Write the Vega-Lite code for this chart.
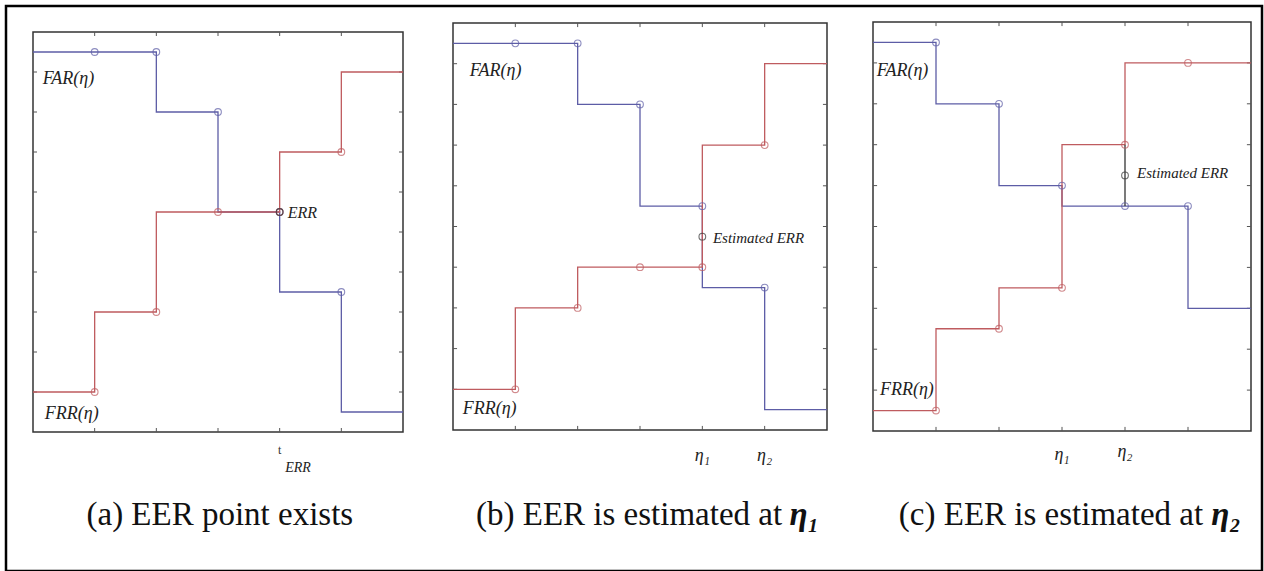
{
"$schema":"https://vega.github.io/schema/vega-lite/v6.json",
"width":1256,"height":565,
"autosize":{"type":"none"},
"padding":{"left":6,"top":6,"right":2,"bottom":0},
"background":"white",
"config":{"view":{"stroke":"#000","strokeWidth":2.5},"text":{"font":"Liberation Serif, Times New Roman, DejaVu Serif, serif"}},
"datasets":{
"curves":[
{"panel":"a","series":"FAR","x":0,"y":9.5},{"panel":"a","series":"FAR","x":1,"y":9.5},{"panel":"a","series":"FAR","x":2,"y":9.5},{"panel":"a","series":"FAR","x":3,"y":8},{"panel":"a","series":"FAR","x":4,"y":5.5},{"panel":"a","series":"FAR","x":5,"y":3.5},{"panel":"a","series":"FAR","x":6,"y":0.5},
{"panel":"a","series":"FRR","x":0,"y":1},{"panel":"a","series":"FRR","x":1,"y":1},{"panel":"a","series":"FRR","x":2,"y":3},{"panel":"a","series":"FRR","x":3,"y":5.5},{"panel":"a","series":"FRR","x":4,"y":5.5},{"panel":"a","series":"FRR","x":5,"y":7},{"panel":"a","series":"FRR","x":6,"y":9},
{"panel":"b","series":"FAR","x":0,"y":9.5},{"panel":"b","series":"FAR","x":1,"y":9.5},{"panel":"b","series":"FAR","x":2,"y":9.5},{"panel":"b","series":"FAR","x":3,"y":8},{"panel":"b","series":"FAR","x":4,"y":5.5},{"panel":"b","series":"FAR","x":5,"y":3.5},{"panel":"b","series":"FAR","x":6,"y":0.5},
{"panel":"b","series":"FRR","x":0,"y":1},{"panel":"b","series":"FRR","x":1,"y":1},{"panel":"b","series":"FRR","x":2,"y":3},{"panel":"b","series":"FRR","x":3,"y":4},{"panel":"b","series":"FRR","x":4,"y":4},{"panel":"b","series":"FRR","x":5,"y":7},{"panel":"b","series":"FRR","x":6,"y":9},
{"panel":"c","series":"FAR","x":0,"y":9.5},{"panel":"c","series":"FAR","x":1,"y":9.5},{"panel":"c","series":"FAR","x":2,"y":8},{"panel":"c","series":"FAR","x":3,"y":6},{"panel":"c","series":"FAR","x":4,"y":5.5},{"panel":"c","series":"FAR","x":5,"y":5.5},{"panel":"c","series":"FAR","x":6,"y":3},
{"panel":"c","series":"FRR","x":0,"y":0.5},{"panel":"c","series":"FRR","x":1,"y":0.5},{"panel":"c","series":"FRR","x":2,"y":2.5},{"panel":"c","series":"FRR","x":3,"y":3.5},{"panel":"c","series":"FRR","x":4,"y":7},{"panel":"c","series":"FRR","x":5,"y":9},{"panel":"c","series":"FRR","x":6,"y":9}
],
"est":[{"panel":"a","x":4,"y":5.5},{"panel":"b","x":4,"y":4.75},{"panel":"c","x":4,"y":6.25}],
"xt":[{"t":1},{"t":2},{"t":3},{"t":4},{"t":5}],
"yt":[{"t":1},{"t":2},{"t":3},{"t":4},{"t":5},{"t":6},{"t":7},{"t":8},{"t":9}]
},
"layer":[
{"layer":[
{"data":{"values":[{}]},"mark":{"type":"rect","fill":"transparent","stroke":"#333","strokeWidth":1.5},
 "encoding":{"x":{"datum":0,"type":"quantitative","scale":{"domain":[0,6],"range":[27,397],"nice":false,"zero":false},"axis":null},"x2":{"datum":6},"y":{"datum":0,"type":"quantitative","scale":{"domain":[0,10],"range":[426,26],"nice":false,"zero":false},"axis":null},"y2":{"datum":10}}},
{"data":{"name":"xt"},"mark":{"type":"rule","color":"#555","strokeWidth":1},
 "encoding":{"x":{"field":"t","type":"quantitative","scale":{"domain":[0,6],"range":[27,397],"nice":false,"zero":false},"axis":null},"y":{"datum":0,"type":"quantitative","scale":{"domain":[0,10],"range":[426,26],"nice":false,"zero":false},"axis":null},"y2":{"datum":0.1}}},
{"data":{"name":"xt"},"mark":{"type":"rule","color":"#555","strokeWidth":1},
 "encoding":{"x":{"field":"t","type":"quantitative","scale":{"domain":[0,6],"range":[27,397],"nice":false,"zero":false},"axis":null},"y":{"datum":10,"type":"quantitative","scale":{"domain":[0,10],"range":[426,26],"nice":false,"zero":false},"axis":null},"y2":{"datum":9.9}}},
{"data":{"name":"yt"},"mark":{"type":"rule","color":"#555","strokeWidth":1},
 "encoding":{"y":{"field":"t","type":"quantitative","scale":{"domain":[0,10],"range":[426,26],"nice":false,"zero":false},"axis":null},"x":{"datum":0,"type":"quantitative","scale":{"domain":[0,6],"range":[27,397],"nice":false,"zero":false},"axis":null},"x2":{"datum":0.065}}},
{"data":{"name":"yt"},"mark":{"type":"rule","color":"#555","strokeWidth":1},
 "encoding":{"y":{"field":"t","type":"quantitative","scale":{"domain":[0,10],"range":[426,26],"nice":false,"zero":false},"axis":null},"x":{"datum":6,"type":"quantitative","scale":{"domain":[0,6],"range":[27,397],"nice":false,"zero":false},"axis":null},"x2":{"datum":5.935}}},
{"data":{"name":"curves"},"transform":[{"filter":"datum.panel === 'a'"}],"mark":{"type":"line","interpolate":"step-before","strokeWidth":1.3},
 "encoding":{"x":{"field":"x","type":"quantitative","scale":{"domain":[0,6],"range":[27,397],"nice":false,"zero":false},"axis":null},"y":{"field":"y","type":"quantitative","scale":{"domain":[0,10],"range":[426,26],"nice":false,"zero":false},"axis":null},"color":{"field":"series","type":"nominal","scale":{"domain":["FAR","FRR"],"range":["#5d5da6","#bf5b5f"]},"legend":null}}},
{"data":{"name":"curves"},"transform":[{"filter":"datum.panel === 'a' && datum.x >= 1 && datum.x <= 5"}],"mark":{"type":"point","filled":false,"size":45,"strokeWidth":1.1},
 "encoding":{"x":{"field":"x","type":"quantitative","scale":{"domain":[0,6],"range":[27,397],"nice":false,"zero":false},"axis":null},"y":{"field":"y","type":"quantitative","scale":{"domain":[0,10],"range":[426,26],"nice":false,"zero":false},"axis":null},"color":{"field":"series","type":"nominal","scale":{"domain":["FAR","FRR"],"range":["#5d5da6","#bf5b5f"]},"legend":null}}},
{"data":{"name":"est"},"transform":[{"filter":"datum.panel === 'a'"}],"mark":{"type":"point","filled":false,"size":45,"strokeWidth":1.1,"color":"#333"},
 "encoding":{"x":{"field":"x","type":"quantitative","scale":{"domain":[0,6],"range":[27,397],"nice":false,"zero":false},"axis":null},"y":{"field":"y","type":"quantitative","scale":{"domain":[0,10],"range":[426,26],"nice":false,"zero":false},"axis":null}}},
{"data":{"values":[{}]},"mark":{"type":"text","text":"FAR(η)","align":"left","baseline":"alphabetic","fontStyle":"italic","fontSize":18,"color":"#222"},
 "encoding":{"x":{"datum":0.157,"type":"quantitative","scale":{"domain":[0,6],"range":[27,397],"nice":false,"zero":false},"axis":null},"y":{"datum":8.7,"type":"quantitative","scale":{"domain":[0,10],"range":[426,26],"nice":false,"zero":false},"axis":null}}},
{"data":{"values":[{}]},"mark":{"type":"text","text":"FRR(η)","align":"left","baseline":"alphabetic","fontStyle":"italic","fontSize":18,"color":"#222"},
 "encoding":{"x":{"datum":0.19,"type":"quantitative","scale":{"domain":[0,6],"range":[27,397],"nice":false,"zero":false},"axis":null},"y":{"datum":0.325,"type":"quantitative","scale":{"domain":[0,10],"range":[426,26],"nice":false,"zero":false},"axis":null}}},
{"data":{"values":[{}]},"mark":{"type":"text","text":"ERR","align":"left","baseline":"alphabetic","fontStyle":"italic","fontSize":16,"color":"#222"},
 "encoding":{"x":{"datum":4.13,"type":"quantitative","scale":{"domain":[0,6],"range":[27,397],"nice":false,"zero":false},"axis":null},"y":{"datum":5.34,"type":"quantitative","scale":{"domain":[0,10],"range":[426,26],"nice":false,"zero":false},"axis":null}}},
{"data":{"values":[{}]},"mark":{"type":"text","text":"t","align":"center","baseline":"alphabetic","fontSize":12,"color":"#333"},
 "encoding":{"x":{"datum":4,"type":"quantitative","scale":{"domain":[0,6],"range":[27,397],"nice":false,"zero":false},"axis":null},"y":{"datum":-0.55,"type":"quantitative","scale":{"domain":[0,10],"range":[426,26],"nice":false,"zero":false},"axis":null}}},
{"data":{"values":[{}]},"mark":{"type":"text","text":"ERR","align":"left","baseline":"alphabetic","fontStyle":"italic","fontSize":14,"color":"#222"},
 "encoding":{"x":{"datum":4.09,"type":"quantitative","scale":{"domain":[0,6],"range":[27,397],"nice":false,"zero":false},"axis":null},"y":{"datum":-0.99,"type":"quantitative","scale":{"domain":[0,10],"range":[426,26],"nice":false,"zero":false},"axis":null}}},
{"data":{"values":[{}]},"mark":{"type":"text","text":"(a) EER point exists","align":"center","baseline":"alphabetic","fontSize":33,"color":"#111"},
 "encoding":{"x":{"datum":3.03,"type":"quantitative","scale":{"domain":[0,6],"range":[27,397],"nice":false,"zero":false},"axis":null},"y":{"datum":-2.325,"type":"quantitative","scale":{"domain":[0,10],"range":[426,26],"nice":false,"zero":false},"axis":null}}}
]},
{"layer":[
{"data":{"values":[{}]},"mark":{"type":"rect","fill":"transparent","stroke":"#333","strokeWidth":1.5},
 "encoding":{"x":{"datum":0,"type":"quantitative","scale":{"domain":[0,6],"range":[447,821],"nice":false,"zero":false},"axis":null},"x2":{"datum":6},"y":{"datum":0,"type":"quantitative","scale":{"domain":[0,10],"range":[424,17],"nice":false,"zero":false},"axis":null},"y2":{"datum":10}}},
{"data":{"name":"xt"},"mark":{"type":"rule","color":"#555","strokeWidth":1},
 "encoding":{"x":{"field":"t","type":"quantitative","scale":{"domain":[0,6],"range":[447,821],"nice":false,"zero":false},"axis":null},"y":{"datum":0,"type":"quantitative","scale":{"domain":[0,10],"range":[424,17],"nice":false,"zero":false},"axis":null},"y2":{"datum":0.1}}},
{"data":{"name":"xt"},"mark":{"type":"rule","color":"#555","strokeWidth":1},
 "encoding":{"x":{"field":"t","type":"quantitative","scale":{"domain":[0,6],"range":[447,821],"nice":false,"zero":false},"axis":null},"y":{"datum":10,"type":"quantitative","scale":{"domain":[0,10],"range":[424,17],"nice":false,"zero":false},"axis":null},"y2":{"datum":9.9}}},
{"data":{"name":"yt"},"mark":{"type":"rule","color":"#555","strokeWidth":1},
 "encoding":{"y":{"field":"t","type":"quantitative","scale":{"domain":[0,10],"range":[424,17],"nice":false,"zero":false},"axis":null},"x":{"datum":0,"type":"quantitative","scale":{"domain":[0,6],"range":[447,821],"nice":false,"zero":false},"axis":null},"x2":{"datum":0.065}}},
{"data":{"name":"yt"},"mark":{"type":"rule","color":"#555","strokeWidth":1},
 "encoding":{"y":{"field":"t","type":"quantitative","scale":{"domain":[0,10],"range":[424,17],"nice":false,"zero":false},"axis":null},"x":{"datum":6,"type":"quantitative","scale":{"domain":[0,6],"range":[447,821],"nice":false,"zero":false},"axis":null},"x2":{"datum":5.935}}},
{"data":{"name":"curves"},"transform":[{"filter":"datum.panel === 'b'"}],"mark":{"type":"line","interpolate":"step-before","strokeWidth":1.3},
 "encoding":{"x":{"field":"x","type":"quantitative","scale":{"domain":[0,6],"range":[447,821],"nice":false,"zero":false},"axis":null},"y":{"field":"y","type":"quantitative","scale":{"domain":[0,10],"range":[424,17],"nice":false,"zero":false},"axis":null},"color":{"field":"series","type":"nominal","scale":{"domain":["FAR","FRR"],"range":["#5d5da6","#bf5b5f"]},"legend":null}}},
{"data":{"name":"curves"},"transform":[{"filter":"datum.panel === 'b' && datum.x >= 1 && datum.x <= 5"}],"mark":{"type":"point","filled":false,"size":45,"strokeWidth":1.1},
 "encoding":{"x":{"field":"x","type":"quantitative","scale":{"domain":[0,6],"range":[447,821],"nice":false,"zero":false},"axis":null},"y":{"field":"y","type":"quantitative","scale":{"domain":[0,10],"range":[424,17],"nice":false,"zero":false},"axis":null},"color":{"field":"series","type":"nominal","scale":{"domain":["FAR","FRR"],"range":["#5d5da6","#bf5b5f"]},"legend":null}}},
{"data":{"name":"est"},"transform":[{"filter":"datum.panel === 'b'"}],"mark":{"type":"point","filled":false,"size":45,"strokeWidth":1.1,"color":"#333"},
 "encoding":{"x":{"field":"x","type":"quantitative","scale":{"domain":[0,6],"range":[447,821],"nice":false,"zero":false},"axis":null},"y":{"field":"y","type":"quantitative","scale":{"domain":[0,10],"range":[424,17],"nice":false,"zero":false},"axis":null}}},
{"data":{"values":[{}]},"mark":{"type":"text","text":"FAR(η)","align":"left","baseline":"alphabetic","fontStyle":"italic","fontSize":18,"color":"#222"},
 "encoding":{"x":{"datum":0.27,"type":"quantitative","scale":{"domain":[0,6],"range":[447,821],"nice":false,"zero":false},"axis":null},"y":{"datum":8.69,"type":"quantitative","scale":{"domain":[0,10],"range":[424,17],"nice":false,"zero":false},"axis":null}}},
{"data":{"values":[{}]},"mark":{"type":"text","text":"FRR(η)","align":"left","baseline":"alphabetic","fontStyle":"italic","fontSize":18,"color":"#222"},
 "encoding":{"x":{"datum":0.155,"type":"quantitative","scale":{"domain":[0,6],"range":[447,821],"nice":false,"zero":false},"axis":null},"y":{"datum":0.39,"type":"quantitative","scale":{"domain":[0,10],"range":[424,17],"nice":false,"zero":false},"axis":null}}},
{"data":{"values":[{}]},"mark":{"type":"text","text":"Estimated ERR","align":"left","baseline":"alphabetic","fontStyle":"italic","fontSize":15,"color":"#222"},
 "encoding":{"x":{"datum":4.17,"type":"quantitative","scale":{"domain":[0,6],"range":[447,821],"nice":false,"zero":false},"axis":null},"y":{"datum":4.6,"type":"quantitative","scale":{"domain":[0,10],"range":[424,17],"nice":false,"zero":false},"axis":null}}},
{"data":{"values":[{}]},"mark":{"type":"text","text":"η₁","align":"center","baseline":"alphabetic","fontStyle":"italic","fontSize":18,"color":"#222"},
 "encoding":{"x":{"datum":4,"type":"quantitative","scale":{"domain":[0,6],"range":[447,821],"nice":false,"zero":false},"axis":null},"y":{"datum":-0.76,"type":"quantitative","scale":{"domain":[0,10],"range":[424,17],"nice":false,"zero":false},"axis":null}}},
{"data":{"values":[{}]},"mark":{"type":"text","text":"η₂","align":"center","baseline":"alphabetic","fontStyle":"italic","fontSize":18,"color":"#222"},
 "encoding":{"x":{"datum":5,"type":"quantitative","scale":{"domain":[0,6],"range":[447,821],"nice":false,"zero":false},"axis":null},"y":{"datum":-0.76,"type":"quantitative","scale":{"domain":[0,10],"range":[424,17],"nice":false,"zero":false},"axis":null}}},
{"data":{"values":[{}]},"mark":{"type":"text","text":"(b) EER is estimated at","align":"right","baseline":"alphabetic","fontSize":33,"color":"#111"},
 "encoding":{"x":{"datum":5.28,"type":"quantitative","scale":{"domain":[0,6],"range":[447,821],"nice":false,"zero":false},"axis":null},"y":{"datum":-2.334,"type":"quantitative","scale":{"domain":[0,10],"range":[424,17],"nice":false,"zero":false},"axis":null}}},
{"data":{"values":[{}]},"mark":{"type":"text","text":"η₁","align":"left","baseline":"alphabetic","fontStyle":"italic","fontWeight":"bold","fontSize":33,"color":"#111"},
 "encoding":{"x":{"datum":5.4,"type":"quantitative","scale":{"domain":[0,6],"range":[447,821],"nice":false,"zero":false},"axis":null},"y":{"datum":-2.334,"type":"quantitative","scale":{"domain":[0,10],"range":[424,17],"nice":false,"zero":false},"axis":null}}}
]},
{"layer":[
{"data":{"values":[{}]},"mark":{"type":"rect","fill":"transparent","stroke":"#333","strokeWidth":1.5},
 "encoding":{"x":{"datum":0,"type":"quantitative","scale":{"domain":[0,6],"range":[867,1245],"nice":false,"zero":false},"axis":null},"x2":{"datum":6},"y":{"datum":0,"type":"quantitative","scale":{"domain":[0,10],"range":[425,16],"nice":false,"zero":false},"axis":null},"y2":{"datum":10}}},
{"data":{"name":"xt"},"mark":{"type":"rule","color":"#555","strokeWidth":1},
 "encoding":{"x":{"field":"t","type":"quantitative","scale":{"domain":[0,6],"range":[867,1245],"nice":false,"zero":false},"axis":null},"y":{"datum":0,"type":"quantitative","scale":{"domain":[0,10],"range":[425,16],"nice":false,"zero":false},"axis":null},"y2":{"datum":0.1}}},
{"data":{"name":"xt"},"mark":{"type":"rule","color":"#555","strokeWidth":1},
 "encoding":{"x":{"field":"t","type":"quantitative","scale":{"domain":[0,6],"range":[867,1245],"nice":false,"zero":false},"axis":null},"y":{"datum":10,"type":"quantitative","scale":{"domain":[0,10],"range":[425,16],"nice":false,"zero":false},"axis":null},"y2":{"datum":9.9}}},
{"data":{"name":"yt"},"mark":{"type":"rule","color":"#555","strokeWidth":1},
 "encoding":{"y":{"field":"t","type":"quantitative","scale":{"domain":[0,10],"range":[425,16],"nice":false,"zero":false},"axis":null},"x":{"datum":0,"type":"quantitative","scale":{"domain":[0,6],"range":[867,1245],"nice":false,"zero":false},"axis":null},"x2":{"datum":0.065}}},
{"data":{"name":"yt"},"mark":{"type":"rule","color":"#555","strokeWidth":1},
 "encoding":{"y":{"field":"t","type":"quantitative","scale":{"domain":[0,10],"range":[425,16],"nice":false,"zero":false},"axis":null},"x":{"datum":6,"type":"quantitative","scale":{"domain":[0,6],"range":[867,1245],"nice":false,"zero":false},"axis":null},"x2":{"datum":5.935}}},
{"data":{"name":"curves"},"transform":[{"filter":"datum.panel === 'c'"}],"mark":{"type":"line","interpolate":"step-before","strokeWidth":1.3},
 "encoding":{"x":{"field":"x","type":"quantitative","scale":{"domain":[0,6],"range":[867,1245],"nice":false,"zero":false},"axis":null},"y":{"field":"y","type":"quantitative","scale":{"domain":[0,10],"range":[425,16],"nice":false,"zero":false},"axis":null},"color":{"field":"series","type":"nominal","scale":{"domain":["FAR","FRR"],"range":["#5d5da6","#bf5b5f"]},"legend":null}}},
{"data":{"values":[{}]},"mark":{"type":"rule","color":"#333","strokeWidth":1.3},
 "encoding":{"x":{"datum":4,"type":"quantitative","scale":{"domain":[0,6],"range":[867,1245],"nice":false,"zero":false},"axis":null},"y":{"datum":5.5,"type":"quantitative","scale":{"domain":[0,10],"range":[425,16],"nice":false,"zero":false},"axis":null},"y2":{"datum":7}}},
{"data":{"name":"curves"},"transform":[{"filter":"datum.panel === 'c' && datum.x >= 1 && datum.x <= 5"}],"mark":{"type":"point","filled":false,"size":45,"strokeWidth":1.1},
 "encoding":{"x":{"field":"x","type":"quantitative","scale":{"domain":[0,6],"range":[867,1245],"nice":false,"zero":false},"axis":null},"y":{"field":"y","type":"quantitative","scale":{"domain":[0,10],"range":[425,16],"nice":false,"zero":false},"axis":null},"color":{"field":"series","type":"nominal","scale":{"domain":["FAR","FRR"],"range":["#5d5da6","#bf5b5f"]},"legend":null}}},
{"data":{"name":"est"},"transform":[{"filter":"datum.panel === 'c'"}],"mark":{"type":"point","filled":false,"size":45,"strokeWidth":1.1,"color":"#333"},
 "encoding":{"x":{"field":"x","type":"quantitative","scale":{"domain":[0,6],"range":[867,1245],"nice":false,"zero":false},"axis":null},"y":{"field":"y","type":"quantitative","scale":{"domain":[0,10],"range":[425,16],"nice":false,"zero":false},"axis":null}}},
{"data":{"values":[{}]},"mark":{"type":"text","text":"FAR(η)","align":"left","baseline":"alphabetic","fontStyle":"italic","fontSize":18,"color":"#222"},
 "encoding":{"x":{"datum":0.06,"type":"quantitative","scale":{"domain":[0,6],"range":[867,1245],"nice":false,"zero":false},"axis":null},"y":{"datum":8.67,"type":"quantitative","scale":{"domain":[0,10],"range":[425,16],"nice":false,"zero":false},"axis":null}}},
{"data":{"values":[{}]},"mark":{"type":"text","text":"FRR(η)","align":"left","baseline":"alphabetic","fontStyle":"italic","fontSize":18,"color":"#222"},
 "encoding":{"x":{"datum":0.11,"type":"quantitative","scale":{"domain":[0,6],"range":[867,1245],"nice":false,"zero":false},"axis":null},"y":{"datum":0.88,"type":"quantitative","scale":{"domain":[0,10],"range":[425,16],"nice":false,"zero":false},"axis":null}}},
{"data":{"values":[{}]},"mark":{"type":"text","text":"Estimated ERR","align":"left","baseline":"alphabetic","fontStyle":"italic","fontSize":15,"color":"#222"},
 "encoding":{"x":{"datum":4.19,"type":"quantitative","scale":{"domain":[0,6],"range":[867,1245],"nice":false,"zero":false},"axis":null},"y":{"datum":6.18,"type":"quantitative","scale":{"domain":[0,10],"range":[425,16],"nice":false,"zero":false},"axis":null}}},
{"data":{"values":[{}]},"mark":{"type":"text","text":"η₁","align":"center","baseline":"alphabetic","fontStyle":"italic","fontSize":18,"color":"#222"},
 "encoding":{"x":{"datum":3,"type":"quantitative","scale":{"domain":[0,6],"range":[867,1245],"nice":false,"zero":false},"axis":null},"y":{"datum":-0.71,"type":"quantitative","scale":{"domain":[0,10],"range":[425,16],"nice":false,"zero":false},"axis":null}}},
{"data":{"values":[{}]},"mark":{"type":"text","text":"η₂","align":"center","baseline":"alphabetic","fontStyle":"italic","fontSize":18,"color":"#222"},
 "encoding":{"x":{"datum":4,"type":"quantitative","scale":{"domain":[0,6],"range":[867,1245],"nice":false,"zero":false},"axis":null},"y":{"datum":-0.64,"type":"quantitative","scale":{"domain":[0,10],"range":[425,16],"nice":false,"zero":false},"axis":null}}},
{"data":{"values":[{}]},"mark":{"type":"text","text":"(c) EER is estimated at","align":"right","baseline":"alphabetic","fontSize":33,"color":"#111"},
 "encoding":{"x":{"datum":5.24,"type":"quantitative","scale":{"domain":[0,6],"range":[867,1245],"nice":false,"zero":false},"axis":null},"y":{"datum":-2.298,"type":"quantitative","scale":{"domain":[0,10],"range":[425,16],"nice":false,"zero":false},"axis":null}}},
{"data":{"values":[{}]},"mark":{"type":"text","text":"η₂","align":"left","baseline":"alphabetic","fontStyle":"italic","fontWeight":"bold","fontSize":33,"color":"#111"},
 "encoding":{"x":{"datum":5.37,"type":"quantitative","scale":{"domain":[0,6],"range":[867,1245],"nice":false,"zero":false},"axis":null},"y":{"datum":-2.298,"type":"quantitative","scale":{"domain":[0,10],"range":[425,16],"nice":false,"zero":false},"axis":null}}}
]}
],
"resolve":{"scale":{"x":"independent","y":"independent"}}
}
